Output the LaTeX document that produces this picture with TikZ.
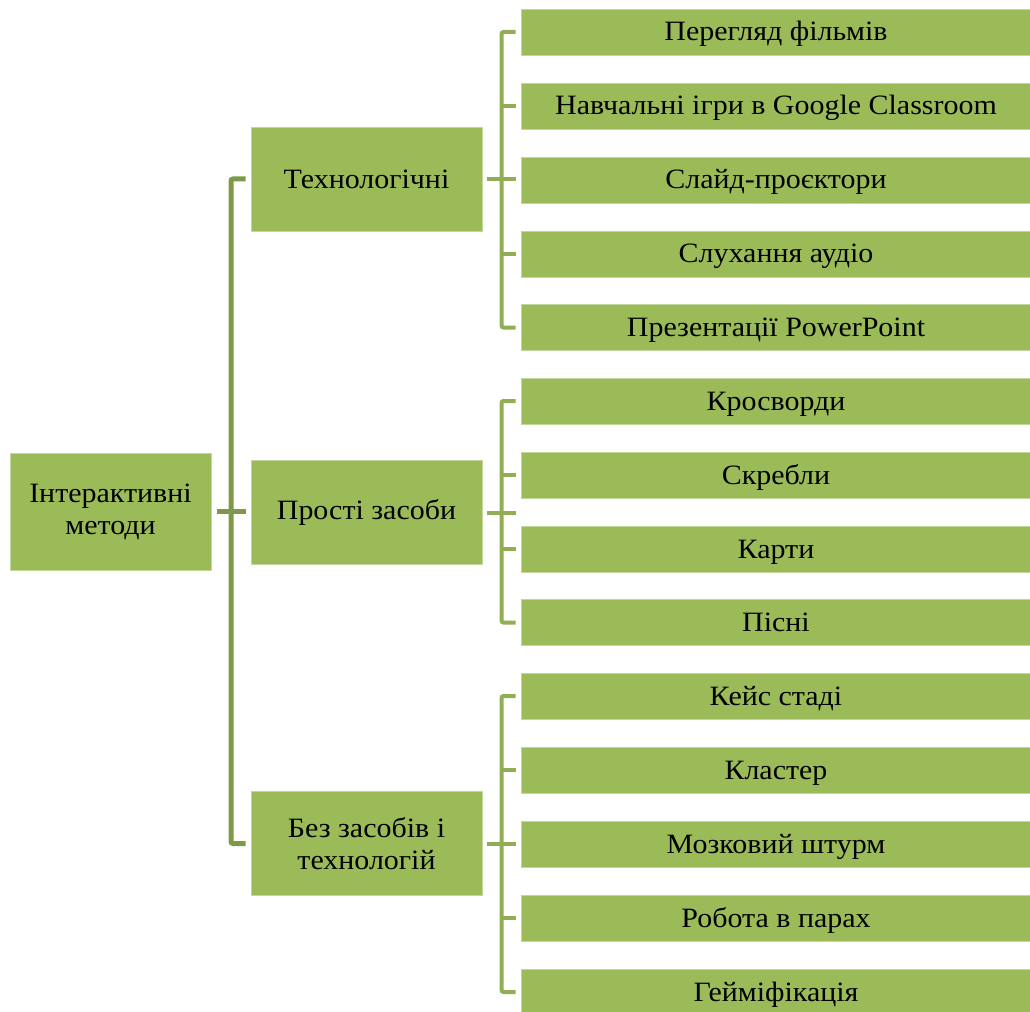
\documentclass[tikz,border=0pt]{standalone}
\usepackage{fontspec}
\setmainfont{Liberation Serif}[FakeStretch=1.07]
\definecolor{boxgreen}{RGB}{155, 187, 89}
\definecolor{trunkgreen}{RGB}{126, 153, 74}
\definecolor{branchgreen}{RGB}{145, 174, 84}
\usepackage{tikz}
\usetikzlibrary{positioning, calc}

\tikzset{
  gbox/.style={fill=boxgreen, draw=boxgreen!60!white, line width=0.5pt, inner sep=2pt,
    align=center, font=\fontsize{21}{24}\selectfont},
  rootbox/.style={gbox, minimum width=150.75pt, minimum height=87.75pt},
  groupbox/.style={gbox, minimum width=173.25pt, minimum height=78pt},
  leafbox/.style={gbox, minimum width=382.5pt, minimum height=34.5pt,
    text height=16pt, text depth=2.5pt},
  lvlone/.style={draw=trunkgreen, line width=3.75pt, rounded corners=1.5pt},
  lvltwo/.style={draw=branchgreen, line width=3pt, rounded corners=1.5pt},
}

\begin{document}
\begin{tikzpicture}[x=0.75pt, y=-0.75pt]
  \useasboundingbox (0, 0) rectangle (1030, 1012);

  % Root and groups
  \node[rootbox] (root) at (110.5, 511.5) {Інтерактивні\\методи};
  \node[groupbox] (tech) at (366.5, 179) {Технологічні};
  \node[groupbox] (prost) at (366.5, 512.5) {Прості засоби};
  \node[groupbox] (bez) at (366.5, 843.5) {Без засобів і\\технологій};

  % Leaves of the first group
  \node[leafbox] (t1) at (776, 32) {Перегляд фільмів};
  \node[leafbox] (t2) at (776, 106) {Навчальні ігри в Google Classroom};
  \node[leafbox] (t3) at (776, 180) {Слайд-проєктори};
  \node[leafbox] (t4) at (776, 254) {Слухання аудіо};
  \node[leafbox] (t5) at (776, 327.5) {Презентації PowerPoint};

  % Leaves of the second group
  \node[leafbox] (p1) at (776, 401) {Кросворди};
  \node[leafbox] (p2) at (776, 475) {Скребли};
  \node[leafbox] (p3) at (776, 549) {Карти};
  \node[leafbox] (p4) at (776, 622.5) {Пісні};

  % Leaves of the third group
  \node[leafbox] (b1) at (776, 696) {Кейс стаді};
  \node[leafbox] (b2) at (776, 770) {Кластер};
  \node[leafbox] (b3) at (776, 844) {Мозковий штурм};
  \node[leafbox] (b4) at (776, 918) {Робота в парах};
  \node[leafbox] (b5) at (776, 992) {Гейміфікація};

  % Trunk from the root
  \coordinate (rmid) at ($(root.east)!.5!(prost.west)$);
  \draw[lvlone, shorten <=4.5pt, shorten >=3.75pt] (root.east) -- (root.east -| prost.west);
  \draw[lvlone] ([xshift=-3.75pt]tech.west) -| (rmid) |- ([xshift=-3.75pt]bez.west);

  % Branches of the first group
  \coordinate (tmid) at ($(tech.east)!.5!(tech.east -| t1.west)$);
  \draw[lvltwo, shorten <=3.75pt, shorten >=3.75pt] (tech.east) -- (tech.east -| t1.west);
  \draw[lvltwo] ([xshift=-3.75pt]t1.west) -| (tmid) |- ([xshift=-3.75pt]t5.west);
  \draw[lvltwo, shorten >=3.75pt] (t2.west -| tmid) -- (t2.west);
  \draw[lvltwo, shorten >=3.75pt] (t4.west -| tmid) -- (t4.west);

  % Branches of the second group
  \coordinate (pmid) at ($(prost.east)!.5!(prost.east -| p1.west)$);
  \draw[lvltwo, shorten <=3.75pt, shorten >=3.75pt] (prost.east) -- (prost.east -| p1.west);
  \draw[lvltwo] ([xshift=-3.75pt]p1.west) -| (pmid) |- ([xshift=-3.75pt]p4.west);
  \draw[lvltwo, shorten >=3.75pt] (p2.west -| pmid) -- (p2.west);
  \draw[lvltwo, shorten >=3.75pt] (p3.west -| pmid) -- (p3.west);

  % Branches of the third group
  \coordinate (bmid) at ($(bez.east)!.5!(bez.east -| b1.west)$);
  \draw[lvltwo, shorten <=3.75pt, shorten >=3.75pt] (bez.east) -- (bez.east -| b1.west);
  \draw[lvltwo] ([xshift=-3.75pt]b1.west) -| (bmid) |- ([xshift=-3.75pt]b5.west);
  \draw[lvltwo, shorten >=3.75pt] (b2.west -| bmid) -- (b2.west);
  \draw[lvltwo, shorten >=3.75pt] (b4.west -| bmid) -- (b4.west);
\end{tikzpicture}
\end{document}
